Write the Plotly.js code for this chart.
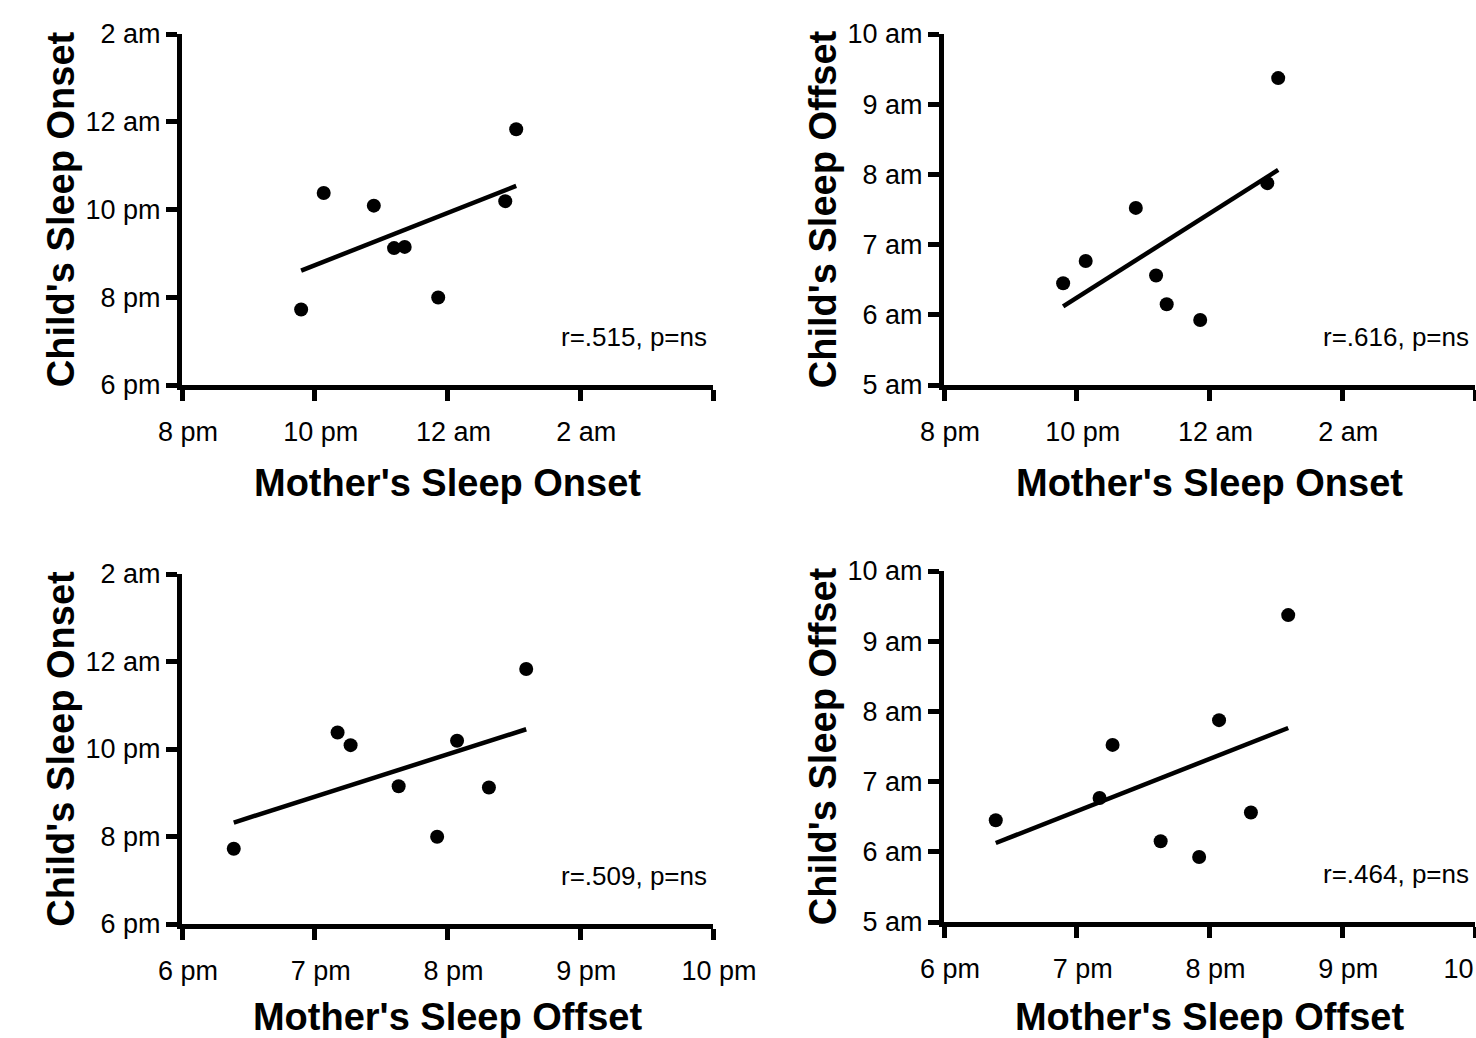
<!DOCTYPE html>
<html>
<head>
<meta charset="utf-8">
<script src="https://cdn.plot.ly/plotly-3.0.1.min.js"></script>
<style>
html,body{margin:0;padding:0;background:#fff;overflow:hidden}
#chart{width:1476px;height:1038px}
</style>
</head>
<body>
<div id="chart"></div>
<script>
// Times in hours (24 = midnight, 25 = 1 am ...), child offset in morning hours
const motherOnset  = [21.795, 22.135, 22.89, 23.195, 23.355, 23.86, 24.87, 25.035];
const motherOffset = [18.39, 19.172, 19.27, 20.312, 19.632, 19.922, 20.072, 20.593];
const childOnset   = [19.72, 22.377, 22.088, 21.12, 21.148, 19.995, 22.19, 23.83];
const childOffset  = [6.45, 6.766, 7.523, 6.559, 6.15, 5.926, 7.875, 9.372];

const onsetTickVals  = [20, 22, 24, 26, 28];
const onsetTickText  = ['8 pm', '10 pm', '12 am', '2 am', ''];
const offsetTickVals = [18, 19, 20, 21, 22];
const offsetTickText = ['6 pm', '7 pm', '8 pm', '9 pm', '10 pm'];
const childOnsetVals = [18, 20, 22, 24, 26];
const childOnsetText = ['6 pm', '8 pm', '10 pm', '12 am', '2 am'];
const childOffsetVals = [5, 6, 7, 8, 9, 10];
const childOffsetText = ['5 am', '6 am', '7 am', '8 am', '9 am', '10 am'];

const statLabels = ['r=.515, p=ns', 'r=.616, p=ns', 'r=.509, p=ns', 'r=.464, p=ns'];
const xTitles = ["Mother's Sleep Onset", "Mother's Sleep Onset", "Mother's Sleep Offset", "Mother's Sleep Offset"];
const yTitles = ["Child's Sleep Onset", "Child's Sleep Offset", "Child's Sleep Onset", "Child's Sleep Offset"];

const W = 1476, H = 1038;
const FONT = 'Liberation Sans, Arial, Helvetica, sans-serif';

function fit(x, y) {
  const n = x.length;
  const mx = x.reduce((a, b) => a + b, 0) / n;
  const my = y.reduce((a, b) => a + b, 0) / n;
  let sxy = 0, sxx = 0;
  for (let i = 0; i < n; i++) { sxy += (x[i] - mx) * (y[i] - my); sxx += (x[i] - mx) ** 2; }
  const b = sxy / sxx, a = my - b * mx;
  const x0 = Math.min(...x), x1 = Math.max(...x);
  return {x: [x0, x1], y: [a + b * x0, a + b * x1]};
}

// pixel boxes of the plot areas: [left, right, top, bottom]
const boxes = [
  [182, 713, 34, 385],
  [944, 1475, 34, 385],
  [182, 713, 574, 924],
  [944, 1475, 571, 922]
];

const panels = [
  {x: motherOnset,  y: childOnset,  xr: [20, 28], yr: [18, 26], xv: onsetTickVals,  xt: onsetTickText,  yv: childOnsetVals,  yt: childOnsetText},
  {x: motherOnset,  y: childOffset, xr: [20, 28], yr: [5, 10],  xv: onsetTickVals,  xt: onsetTickText,  yv: childOffsetVals, yt: childOffsetText},
  {x: motherOffset, y: childOnset,  xr: [18, 22], yr: [18, 26], xv: offsetTickVals, xt: offsetTickText, yv: childOnsetVals,  yt: childOnsetText},
  {x: motherOffset, y: childOffset, xr: [18, 22], yr: [5, 10],  xv: offsetTickVals, xt: offsetTickText, yv: childOffsetVals, yt: childOffsetText}
];

const data = [];
const layout = {
  width: W, height: H,
  margin: {l: 0, r: 0, t: 0, b: 0},
  paper_bgcolor: '#fff', plot_bgcolor: '#fff',
  showlegend: false,
  font: {family: FONT, color: '#000'},
  annotations: []
};

panels.forEach((p, i) => {
  const k = i === 0 ? '' : String(i + 1);
  const b = boxes[i];
  const f = fit(p.x, p.y);
  data.push({
    type: 'scatter', mode: 'lines', x: f.x, y: f.y,
    xaxis: 'x' + k, yaxis: 'y' + k,
    line: {color: '#000', width: 4.5}, hoverinfo: 'skip'
  });
  data.push({
    type: 'scatter', mode: 'markers', x: p.x, y: p.y,
    xaxis: 'x' + k, yaxis: 'y' + k,
    marker: {color: '#000', size: 14}
  });
  const common = {
    showline: true, linecolor: '#000', linewidth: 5,
    ticks: 'outside', ticklen: 11, tickwidth: 5, tickcolor: '#000',
    showgrid: false, zeroline: false, fixedrange: true,
    tickmode: 'array', ticklabeloverflow: 'allow',
    tickfont: {family: FONT, size: 27, color: '#000'}
  };
  layout['xaxis' + k] = Object.assign({}, common, {
    domain: [b[0] / W, b[1] / W], anchor: 'y' + k,
    range: p.xr, tickvals: p.xv, ticktext: p.xt,
    ticklabelstandoff: 8, ticklabelshift: 6,
    title: {text: '<b>' + xTitles[i] + '</b>', font: {family: FONT, size: 38, color: '#000'}, standoff: 24}
  });
  layout['yaxis' + k] = Object.assign({}, common, {
    domain: [1 - b[3] / H, 1 - b[2] / H], anchor: 'x' + k,
    range: p.yr, tickvals: p.yv, ticktext: p.yt,
    title: {text: '<b>' + yTitles[i] + '</b>', font: {family: FONT, size: 38, color: '#000'}, standoff: 1}
  });
  layout.annotations.push({
    xref: 'paper', yref: 'paper',
    x: (b[1] - 4) / W, y: 1 - (b[3] - 48) / H,
    xanchor: 'right', yanchor: 'middle',
    text: statLabels[i], showarrow: false,
    font: {family: FONT, size: 26, color: '#000'}
  });
});

Plotly.newPlot('chart', data, layout, {displayModeBar: false, staticPlot: true});
</script>
</body>
</html>
